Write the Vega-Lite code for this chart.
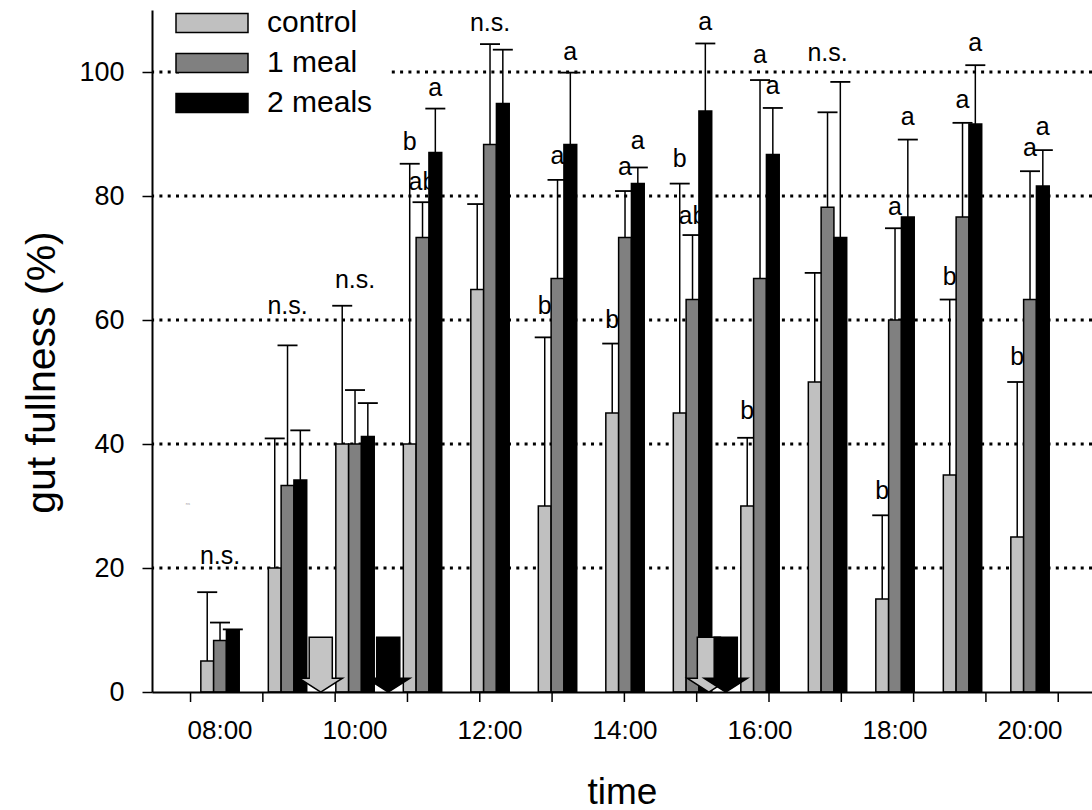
{
  "$schema": "https://vega.github.io/schema/vega-lite/v6.json",
  "width": 940,
  "height": 682,
  "autosize": {"type": "none"},
  "padding": {"left": 152, "top": 10, "right": 0, "bottom": 118},
  "background": "white",
  "config": {
    "font": "Liberation Sans",
    "view": {"stroke": null},
    "axis": {"labelColor": "black", "titleColor": "black", "domainColor": "black", "tickColor": "black", "titleFontWeight": "normal", "grid": false, "ticks": true, "domain": true, "labels": true}
  },
  "datasets": {
    "grid": [{"v": 20}, {"v": 40}, {"v": 60}, {"v": 80}, {"v": 100}],
    "bars": [
      {"time": "08:00", "group": "control", "mean": 5.0, "upper": 16.1},
      {"time": "08:00", "group": "1 meal", "mean": 8.3, "upper": 11.2},
      {"time": "08:00", "group": "2 meals", "mean": 10.0, "upper": 10.1},
      {"time": "09:00", "group": "control", "mean": 20.0, "upper": 40.9},
      {"time": "09:00", "group": "1 meal", "mean": 33.3, "upper": 55.9},
      {"time": "09:00", "group": "2 meals", "mean": 34.2, "upper": 42.2},
      {"time": "10:00", "group": "control", "mean": 40.0, "upper": 62.3},
      {"time": "10:00", "group": "1 meal", "mean": 40.0, "upper": 48.7},
      {"time": "10:00", "group": "2 meals", "mean": 41.2, "upper": 46.6},
      {"time": "11:00", "group": "control", "mean": 40.0, "upper": 85.2},
      {"time": "11:00", "group": "1 meal", "mean": 73.3, "upper": 79.0},
      {"time": "11:00", "group": "2 meals", "mean": 87.0, "upper": 94.1},
      {"time": "12:00", "group": "control", "mean": 64.9, "upper": 78.7},
      {"time": "12:00", "group": "1 meal", "mean": 88.3, "upper": 104.5},
      {"time": "12:00", "group": "2 meals", "mean": 94.9, "upper": 103.6},
      {"time": "13:00", "group": "control", "mean": 30.0, "upper": 57.2},
      {"time": "13:00", "group": "1 meal", "mean": 66.7, "upper": 82.6},
      {"time": "13:00", "group": "2 meals", "mean": 88.3, "upper": 99.9},
      {"time": "14:00", "group": "control", "mean": 45.0, "upper": 56.2},
      {"time": "14:00", "group": "1 meal", "mean": 73.3, "upper": 80.8},
      {"time": "14:00", "group": "2 meals", "mean": 82.0, "upper": 84.6},
      {"time": "15:00", "group": "control", "mean": 45.0, "upper": 82.0},
      {"time": "15:00", "group": "1 meal", "mean": 63.3, "upper": 73.7},
      {"time": "15:00", "group": "2 meals", "mean": 93.7, "upper": 104.6},
      {"time": "16:00", "group": "control", "mean": 30.0, "upper": 41.0},
      {"time": "16:00", "group": "1 meal", "mean": 66.7, "upper": 98.7},
      {"time": "16:00", "group": "2 meals", "mean": 86.7, "upper": 94.2},
      {"time": "17:00", "group": "control", "mean": 50.0, "upper": 67.6},
      {"time": "17:00", "group": "1 meal", "mean": 78.2, "upper": 93.5},
      {"time": "17:00", "group": "2 meals", "mean": 73.3, "upper": 98.4},
      {"time": "18:00", "group": "control", "mean": 15.0, "upper": 28.5},
      {"time": "18:00", "group": "1 meal", "mean": 60.0, "upper": 74.8},
      {"time": "18:00", "group": "2 meals", "mean": 76.6, "upper": 89.1},
      {"time": "19:00", "group": "control", "mean": 35.0, "upper": 63.3},
      {"time": "19:00", "group": "1 meal", "mean": 76.6, "upper": 91.8},
      {"time": "19:00", "group": "2 meals", "mean": 91.6, "upper": 101.1},
      {"time": "20:00", "group": "control", "mean": 25.0, "upper": 50.0},
      {"time": "20:00", "group": "1 meal", "mean": 63.3, "upper": 84.0},
      {"time": "20:00", "group": "2 meals", "mean": 81.6, "upper": 87.4}
    ],
    "letters": [
      {"time": "08:00", "group": "1 meal", "label": "n.s.", "y": 20.7},
      {"time": "09:00", "group": "1 meal", "label": "n.s.", "y": 61.0},
      {"time": "10:00", "group": "1 meal", "label": "n.s.", "y": 65.1},
      {"time": "11:00", "group": "control", "label": "b", "y": 87.4},
      {"time": "11:00", "group": "1 meal", "label": "ab", "y": 81.0},
      {"time": "11:00", "group": "2 meals", "label": "a", "y": 96.2},
      {"time": "12:00", "group": "1 meal", "label": "n.s.", "y": 106.6},
      {"time": "13:00", "group": "control", "label": "b", "y": 61.0},
      {"time": "13:00", "group": "1 meal", "label": "a", "y": 85.2},
      {"time": "13:00", "group": "2 meals", "label": "a", "y": 101.9},
      {"time": "14:00", "group": "control", "label": "b", "y": 58.7},
      {"time": "14:00", "group": "1 meal", "label": "a", "y": 83.4},
      {"time": "14:00", "group": "2 meals", "label": "a", "y": 87.6},
      {"time": "15:00", "group": "control", "label": "b", "y": 84.6},
      {"time": "15:00", "group": "1 meal", "label": "ab", "y": 75.5},
      {"time": "15:00", "group": "2 meals", "label": "a", "y": 106.7},
      {"time": "16:00", "group": "control", "label": "b", "y": 44.1},
      {"time": "16:00", "group": "1 meal", "label": "a", "y": 101.4},
      {"time": "16:00", "group": "2 meals", "label": "a", "y": 96.5},
      {"time": "17:00", "group": "1 meal", "label": "n.s.", "y": 101.8},
      {"time": "18:00", "group": "control", "label": "b", "y": 31.1},
      {"time": "18:00", "group": "1 meal", "label": "a", "y": 76.9},
      {"time": "18:00", "group": "2 meals", "label": "a", "y": 91.4},
      {"time": "19:00", "group": "control", "label": "b", "y": 65.6},
      {"time": "19:00", "group": "1 meal", "label": "a", "y": 94.2},
      {"time": "19:00", "group": "2 meals", "label": "a", "y": 103.4},
      {"time": "20:00", "group": "control", "label": "b", "y": 52.8},
      {"time": "20:00", "group": "1 meal", "label": "a", "y": 86.4},
      {"time": "20:00", "group": "2 meals", "label": "a", "y": 89.9}
    ],
    "arrows": [
      {"hour": 9.5, "y": 4.4, "meal": "first"},
      {"hour": 15.25, "y": 4.4, "meal": "first"},
      {"hour": 10.5, "y": 4.4, "meal": "second"},
      {"hour": 15.5, "y": 4.4, "meal": "second"}
    ],
    "tiny": [{"hour": 7.53, "y": 30.3, "label": "ns"}]
  },
  "layer": [
    {
      "data": {"name": "grid"},
      "mark": {"type": "rule", "stroke": "black", "strokeWidth": 3, "strokeDash": [3, 5.3]},
      "encoding": {
        "y": {
          "field": "v", "type": "quantitative",
          "scale": {"domain": [0, 110], "nice": false, "zero": true},
          "axis": {
            "orient": "left", "zindex": 1,
            "title": "gut fullness (%)", "titleFontSize": 41, "titleX": -110, "titleY": 362, "titleBaseline": "middle",
            "values": [0, 20, 40, 60, 80, 100], "labelFontSize": 27, "labelPadding": 18,
            "tickSize": 10, "tickWidth": 1.5, "domainWidth": 2
          }
        }
      }
    },
    {
      "data": {"name": "bars"},
      "mark": {"type": "rule", "stroke": "black", "strokeWidth": 1.5},
      "encoding": {
        "x": {
          "field": "time", "type": "nominal",
          "scale": {"domain": ["08:00","09:00","10:00","11:00","12:00","13:00","14:00","15:00","16:00","17:00","18:00","19:00","20:00"], "paddingInner": 0.431, "paddingOuter": 0.6785, "align": 0.533},
          "axis": {
            "orient": "bottom", "zindex": 1, "ticks": false,
            "title": "time", "titleFontSize": 37, "titleY": 100, "titleBaseline": "middle",
            "labelExpr": "indexof(['08:00','10:00','12:00','14:00','16:00','18:00','20:00'], datum.value) >= 0 ? datum.value : ''",
            "labelAngle": 0, "labelFontSize": 26, "labelPadding": 25, "domainWidth": 2
          }
        },
        "xOffset": {"field": "group", "type": "nominal", "scale": {"domain": ["control", "1 meal", "2 meals"]}},
        "y": {"field": "mean", "type": "quantitative", "scale": {"domain": [0, 110], "nice": false, "zero": true}},
        "y2": {"field": "upper"}
      }
    },
    {
      "data": {"name": "bars"},
      "mark": {"type": "tick", "color": "black", "thickness": 1.8, "size": 20, "opacity": 1},
      "encoding": {
        "x": {
          "field": "time", "type": "nominal",
          "scale": {"domain": ["08:00","09:00","10:00","11:00","12:00","13:00","14:00","15:00","16:00","17:00","18:00","19:00","20:00"], "paddingInner": 0.431, "paddingOuter": 0.6785, "align": 0.533},
          "axis": null
        },
        "xOffset": {"field": "group", "type": "nominal", "scale": {"domain": ["control", "1 meal", "2 meals"]}},
        "y": {"field": "upper", "type": "quantitative", "scale": {"domain": [0, 110], "nice": false, "zero": true}}
      }
    },
    {
      "data": {"name": "bars"},
      "mark": {"type": "bar", "stroke": "black", "strokeWidth": 1.5, "opacity": 1},
      "encoding": {
        "x": {
          "field": "time", "type": "nominal",
          "scale": {"domain": ["08:00","09:00","10:00","11:00","12:00","13:00","14:00","15:00","16:00","17:00","18:00","19:00","20:00"], "paddingInner": 0.431, "paddingOuter": 0.6785, "align": 0.533},
          "axis": null
        },
        "xOffset": {"field": "group", "type": "nominal", "scale": {"domain": ["control", "1 meal", "2 meals"]}},
        "y": {"field": "mean", "type": "quantitative", "scale": {"domain": [0, 110], "nice": false, "zero": true}},
        "fill": {
          "field": "group", "type": "nominal",
          "scale": {"domain": ["control", "1 meal", "2 meals"], "range": ["#c0c0c0", "#808080", "#000000"]},
          "legend": {
            "title": null, "orient": "none", "legendX": 27, "legendY": -20,
            "symbolType": "M-3.6,-0.95L3.6,-0.95L3.6,0.95L-3.6,0.95Z", "symbolSize": 400,
            "symbolStrokeColor": "black", "symbolStrokeWidth": 1.5, "symbolOpacity": 1,
            "labelFontSize": 30, "labelColor": "black", "labelOffset": 40, "rowPadding": 10,
            "fillColor": "white", "padding": 18
          }
        }
      }
    },
    {
      "data": {"name": "bars"},
      "transform": [{"filter": "datum.group == '1 meal'"}],
      "mark": {"type": "point", "shape": "M0,0L0,2", "size": 100, "filled": false, "stroke": "black", "color": "black", "strokeWidth": 1.5, "opacity": 1},
      "encoding": {
        "x": {
          "field": "time", "type": "nominal",
          "scale": {"domain": ["08:00","09:00","10:00","11:00","12:00","13:00","14:00","15:00","16:00","17:00","18:00","19:00","20:00"], "paddingInner": 0.431, "paddingOuter": 0.6785, "align": 0.533},
          "axis": null
        },
        "y": {"datum": 0, "type": "quantitative", "scale": {"domain": [0, 110], "nice": false, "zero": true}}
      }
    },
    {
      "data": {"name": "letters"},
      "mark": {"type": "text", "fontSize": 25, "baseline": "alphabetic", "color": "black"},
      "encoding": {
        "x": {
          "field": "time", "type": "nominal",
          "scale": {"domain": ["08:00","09:00","10:00","11:00","12:00","13:00","14:00","15:00","16:00","17:00","18:00","19:00","20:00"], "paddingInner": 0.431, "paddingOuter": 0.6785, "align": 0.533},
          "axis": null
        },
        "xOffset": {"field": "group", "type": "nominal", "scale": {"domain": ["control", "1 meal", "2 meals"]}},
        "y": {"field": "y", "type": "quantitative", "scale": {"domain": [0, 110], "nice": false, "zero": true}},
        "text": {"field": "label"}
      }
    },
    {
      "data": {"name": "arrows"},
      "mark": {"type": "point", "shape": "M-0.42,-1L0.42,-1L0.42,0.49L0.79,0.49L0,1L-0.79,0.49L-0.42,0.49Z", "size": 3025, "filled": true, "stroke": "black", "strokeWidth": 1.5, "opacity": 1},
      "encoding": {
        "x": {"field": "hour", "type": "quantitative", "scale": {"domain": [7, 20.926], "nice": false, "zero": false}, "axis": null},
        "y": {"field": "y", "type": "quantitative", "scale": {"domain": [0, 110], "nice": false, "zero": true}},
        "fill": {"field": "meal", "type": "nominal", "scale": {"domain": ["first", "second"], "range": ["#c4c4c4", "#000000"]}, "legend": null}
      }
    },
    {
      "data": {"name": "tiny"},
      "mark": {"type": "text", "fontSize": 4, "color": "#999999"},
      "encoding": {
        "x": {"field": "hour", "type": "quantitative", "scale": {"domain": [7, 20.926], "nice": false, "zero": false}, "axis": null},
        "y": {"field": "y", "type": "quantitative", "scale": {"domain": [0, 110], "nice": false, "zero": true}},
        "text": {"field": "label"}
      }
    }
  ],
  "resolve": {"scale": {"x": "independent", "fill": "independent"}}
}
